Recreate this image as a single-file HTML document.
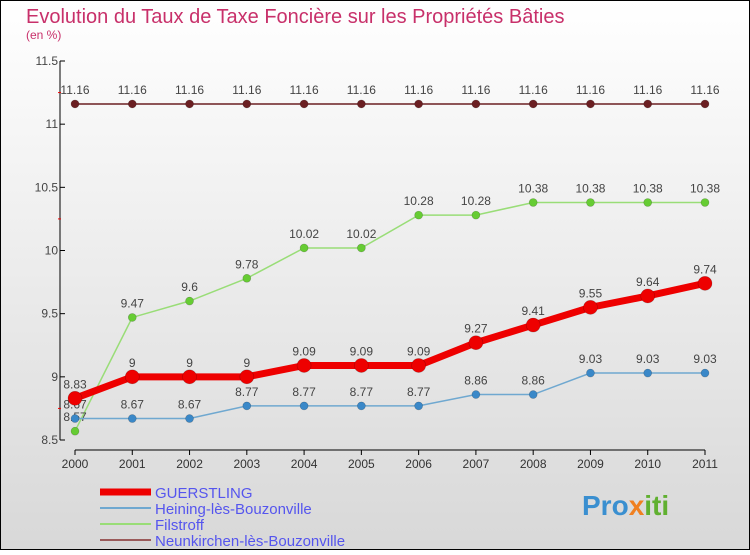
<!DOCTYPE html>
<html><head><meta charset="utf-8"><style>
body{margin:0}
#c{width:750px;height:550px;position:relative;font-family:"Liberation Sans",sans-serif}
</style></head><body>
<div id="c">
<svg width="750" height="550" xmlns="http://www.w3.org/2000/svg" id="svg">
<defs><linearGradient id="bg" x1="0" y1="0" x2="0" y2="1"><stop offset="0" stop-color="#ffffff"/><stop offset="1" stop-color="#d8d8d8"/></linearGradient></defs>
<rect x="0.5" y="0.5" width="749" height="549" fill="url(#bg)" stroke="#000"/>
<text x="26" y="23" font-size="20" fill="#c8306a">Evolution du Taux de Taxe Foncière sur les Propriétés Bâties</text>
<text x="26" y="39" font-size="12" fill="#c8306a">(en %)</text>
<g id="axes"></g><g id="series"></g><g id="legend"></g>
<text x="582" y="515" font-size="28" font-weight="bold" fill="#3a8fd0">Pro<tspan fill="#f08020">x</tspan><tspan fill="#60b030">iti</tspan></text>
</svg>
</div>
<script>
const years=[2000,2001,2002,2003,2004,2005,2006,2007,2008,2009,2010,2011];
const guerstling=[8.83,9,9,9,9.09,9.09,9.09,9.27,9.41,9.55,9.64,9.74];
const heining=[8.67,8.67,8.67,8.77,8.77,8.77,8.77,8.86,8.86,9.03,9.03,9.03];
const filstroff=[8.57,9.47,9.6,9.78,10.02,10.02,10.28,10.28,10.38,10.38,10.38,10.38];
const neunkirchen=[11.16,11.16,11.16,11.16,11.16,11.16,11.16,11.16,11.16,11.16,11.16,11.16];
const yTicks=[8.5,9,9.5,10,10.5,11,11.5];
const seriesNames=["GUERSTLING","Heining-lès-Bouzonville","Filstroff","Neunkirchen-lès-Bouzonville"];
const NS="http://www.w3.org/2000/svg";
const xS=i=>75+i*(630/11);
const yS=v=>440-(v-8.5)*(379/3);
function mk(t,a,p){const e=document.createElementNS(NS,t);for(const k in a)e.setAttribute(k,a[k]);p.appendChild(e);return e;}
const ax=document.getElementById('axes');
let l=mk('line',{x1:60,y1:61,x2:60,y2:440,stroke:'#000'},ax);


l=mk('line',{x1:75,y1:450,x2:705,y2:450,stroke:'#000'},ax);


yTicks.forEach(v=>{mk('line',{x1:60,y1:yS(v),x2:65,y2:yS(v),stroke:'#000'},ax);
const t=mk('text',{x:58,y:yS(v)+4,'font-size':12,fill:'#444','text-anchor':'end'},ax);t.textContent=v;

});
[8.75,10.25,11.25].forEach(v=>mk('line',{x1:58,y1:yS(v),x2:61,y2:yS(v),stroke:'#e00'},ax));
years.forEach((y,i)=>{mk('line',{x1:xS(i),y1:450,x2:xS(i),y2:455,stroke:'#000'},ax);
const t=mk('text',{x:xS(i),y:468,'font-size':12,fill:'#333','text-anchor':'middle'},ax);t.textContent=y;

});
const sg=document.getElementById('series');
const defs=[[neunkirchen,'#6b1f22','#6b1f22',1.5,4,'neunkirchen'],[filstroff,'#99dd77','#66cc33',1.5,4,'filstroff'],[heining,'#6fa8d0','#3a88c8',1.5,4,'heining'],[guerstling,'#ee0000','#ee0000',7,7,'guerstling']];
defs.forEach(([d,lc,pc,w,r,n])=>{
const p=mk('polyline',{points:d.map((v,i)=>xS(i)+','+yS(v)).join(' '),fill:'none',stroke:lc,'stroke-width':w},sg);


d.forEach((v,i)=>{const c=mk('circle',{cx:xS(i),cy:yS(v),r:r,fill:pc,stroke:'rgba(0,0,0,0.25)','stroke-width':0.6},sg);


const t=mk('text',{x:xS(i),y:yS(v)-10,'font-size':12,fill:'#444','text-anchor':'middle'},sg);t.textContent=v;

});});
const lg=document.getElementById('legend');
const lcol=['#ee0000','#6fa8d0','#99dd77','#9a5a5a'],lw=[7,2,2,2];
seriesNames.forEach((n,i)=>{const y=492+i*16;
mk('line',{x1:100,y1:y,x2:151,y2:y,stroke:lcol[i],'stroke-width':lw[i]},lg);
const t=mk('text',{x:155,y:y+6,'font-size':15,fill:'#5555ee'},lg);t.textContent=n;

});
</script>
</body></html>
